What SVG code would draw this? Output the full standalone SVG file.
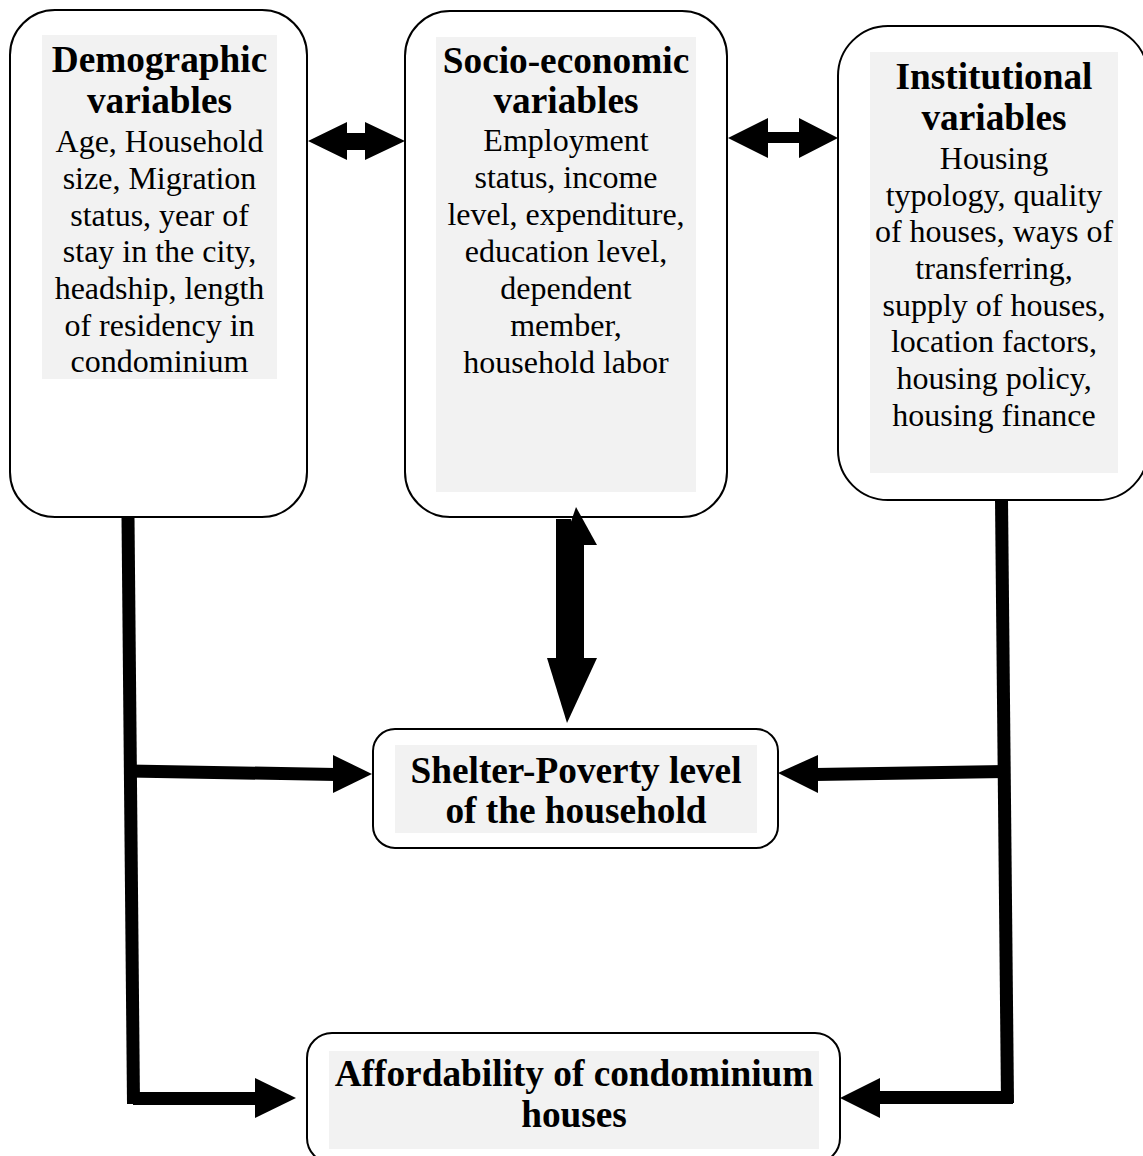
<svg xmlns="http://www.w3.org/2000/svg" width="1143" height="1156" viewBox="0 0 1143 1156">
<style>
.box{fill:#ffffff;stroke:#000000;stroke-width:2}
.bg{fill:#f2f2f2}
.h{font-family:"Liberation Serif","Times New Roman",serif;font-weight:bold;font-size:37.3px;text-anchor:middle;fill:#000}
.t{font-family:"Liberation Serif","Times New Roman",serif;font-size:32px;text-anchor:middle;fill:#000}
.ln{stroke:#000;stroke-width:13;fill:none}
.ah{fill:#000;stroke:none}
</style>
<rect width="1143" height="1156" fill="#ffffff"/>
<g id="demographic">
<rect class="box" x="10" y="10" width="297" height="507" rx="45"/>
<rect class="bg" x="42" y="35" width="235" height="344"/>
<text class="h" x="159.5" y="72">Demographic</text>
<text class="h" x="159.5" y="113">variables</text>
<text class="t" x="159.5" y="152">Age, Household</text>
<text class="t" x="159.5" y="189">size, Migration</text>
<text class="t" x="159.5" y="225.5">status, year of</text>
<text class="t" x="159.5" y="262">stay in the city,</text>
<text class="t" x="159.5" y="299">headship, length</text>
<text class="t" x="159.5" y="335.5">of residency in</text>
<text class="t" x="159.5" y="372">condominium</text>
</g>
<g id="socioeconomic">
<rect class="box" x="405" y="11" width="322" height="506" rx="45"/>
<rect class="bg" x="436" y="37" width="260" height="455"/>
<text class="h" x="566" y="73">Socio-economic</text>
<text class="h" x="566" y="113">variables</text>
<text class="t" x="566" y="151">Employment</text>
<text class="t" x="566" y="188">status, income</text>
<text class="t" x="566" y="225">level, expenditure,</text>
<text class="t" x="566" y="262">education level,</text>
<text class="t" x="566" y="299">dependent</text>
<text class="t" x="566" y="336">member,</text>
<text class="t" x="566" y="373">household labor</text>
</g>
<g id="institutional">
<rect class="box" x="838" y="26" width="310" height="474" rx="50"/>
<rect class="bg" x="870" y="52" width="248" height="421"/>
<text class="h" x="994" y="89">Institutional</text>
<text class="h" x="994" y="130">variables</text>
<text class="t" x="994" y="169">Housing</text>
<text class="t" x="994" y="205.5">typology, quality</text>
<text class="t" x="994" y="242">of houses, ways of</text>
<text class="t" x="994" y="279">transferring,</text>
<text class="t" x="994" y="315.5">supply of houses,</text>
<text class="t" x="994" y="352">location factors,</text>
<text class="t" x="994" y="389">housing policy,</text>
<text class="t" x="994" y="425.5">housing finance</text>
</g>
<g id="shelter">
<rect class="box" x="373" y="729" width="405" height="119" rx="22"/>
<rect class="bg" x="395" y="745" width="362" height="88"/>
<text class="h" x="576" y="783">Shelter-Poverty level</text>
<text class="h" x="576" y="823">of the household</text>
</g>
<g id="affordability">
<rect class="box" x="307" y="1033" width="533" height="130" rx="25"/>
<rect class="bg" x="329" y="1051" width="490" height="98"/>
<text class="h" x="574" y="1086">Affordability of condominium</text>
<text class="h" x="574" y="1127">houses</text>
</g>
<g id="connectors">
<polygon class="ah" points="308,141 347,122 347,133 365,133 365,122 405,141 365,160 365,150 347,150 347,160"/>
<polygon class="ah" points="728,138 768,118 768,132 799,132 799,118 838,138 799,158 799,143 768,143 768,158"/>
<rect class="ah" x="556" y="519" width="15" height="141"/>
<rect class="ah" x="571" y="545" width="13" height="115"/>
<polygon class="ah" points="576,507 597,545 563,545"/>
<polygon class="ah" points="547,658 597,658 567,723"/>
<line class="ln" x1="128" y1="517" x2="133.5" y2="1104"/>
<line class="ln" x1="129" y1="771" x2="336" y2="774.5"/>
<polygon class="ah" points="333,755 333,793 372,774"/>
<line class="ln" x1="133" y1="1098.5" x2="258" y2="1098.5"/>
<polygon class="ah" points="255,1078 255,1118 296,1098"/>
<line class="ln" x1="1001.5" y1="499" x2="1007.5" y2="1103"/>
<line class="ln" x1="1005" y1="771.5" x2="815" y2="774.5"/>
<polygon class="ah" points="818,755 818,793 778,773"/>
<line class="ln" x1="1013" y1="1097.5" x2="877" y2="1097.5"/>
<polygon class="ah" points="880,1078 880,1118 840,1098"/>
</g>
</svg>
